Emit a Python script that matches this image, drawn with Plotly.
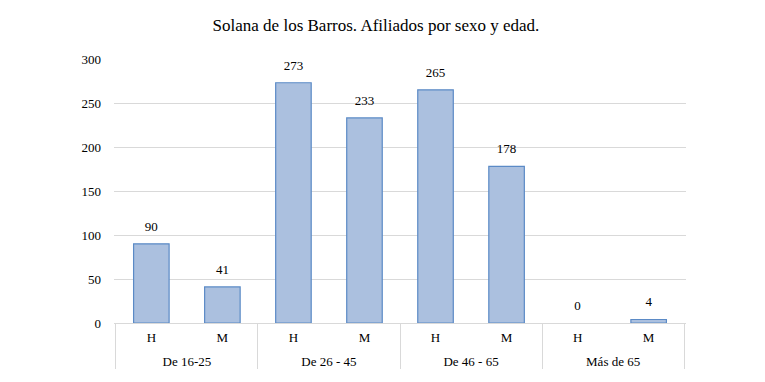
import plotly.graph_objects as go

groups = ["De 16-25", "De 16-25", "De 26 - 45", "De 26 - 45", "De 46 - 65", "De 46 - 65", "Más de 65", "Más de 65"]
sexes = ["H", "M", "H", "M", "H", "M", "H", "M"]
values = [90, 41, 273, 233, 265, 178, 0, 4]
y_ticks = [0, 50, 100, 150, 200, 250, 300]

font_family = "Liberation Serif, DejaVu Serif, serif"

# padded label: invisible taller spaces on both sides add row spacing like the original
pad = "<span style='font-size:21px'>&nbsp;</span>"
sex_labels = [pad + s + pad for s in sexes]

fig = go.Figure()
fig.add_trace(go.Bar(
    x=[groups, sex_labels],
    y=values,
    marker=dict(color="#abc0df",
                line=dict(color="#5b8ac6", width=[1.2 if v > 0 else 0 for v in values])),
    hoverinfo="y",
))
fig.add_trace(go.Scatter(
    x=[groups, sex_labels],
    y=values,
    mode="markers+text",
    text=[str(v) for v in values],
    textposition="top center",
    textfont=dict(family=font_family, size=13, color="#000000"),
    marker=dict(size=14, opacity=0),
    cliponaxis=False,
    hoverinfo="skip",
))

fig.update_layout(
    width=765, height=382,
    margin=dict(l=106, r=87, t=51, b=67),
    paper_bgcolor="white", plot_bgcolor="white",
    bargap=0.5,
    showlegend=False,
    title=dict(text="Solana de los Barros. Afiliados por sexo y edad.",
               x=0.481, xanchor="center", y=0.9555, yanchor="middle",
               font=dict(family=font_family, size=17, color="#000000")),
    font=dict(family=font_family, size=12, color="#000000"),
)
fig.update_yaxes(range=[0, 300], tickvals=y_ticks, showgrid=True, gridcolor="#d9d9d9",
                 gridwidth=1, zeroline=False, showline=False, ticks="",
                 tickfont=dict(family=font_family, size=13), ticklabelstandoff=12)
fig.update_xaxes(type="multicategory", showline=True, linecolor="#d9d9d9", linewidth=1,
                 showdividers=True, dividercolor="#d9d9d9", dividerwidth=1,
                 ticks="", tickfont=dict(family=font_family, size=13), ticklabelstandoff=2)

fig.write_html("out.html")
